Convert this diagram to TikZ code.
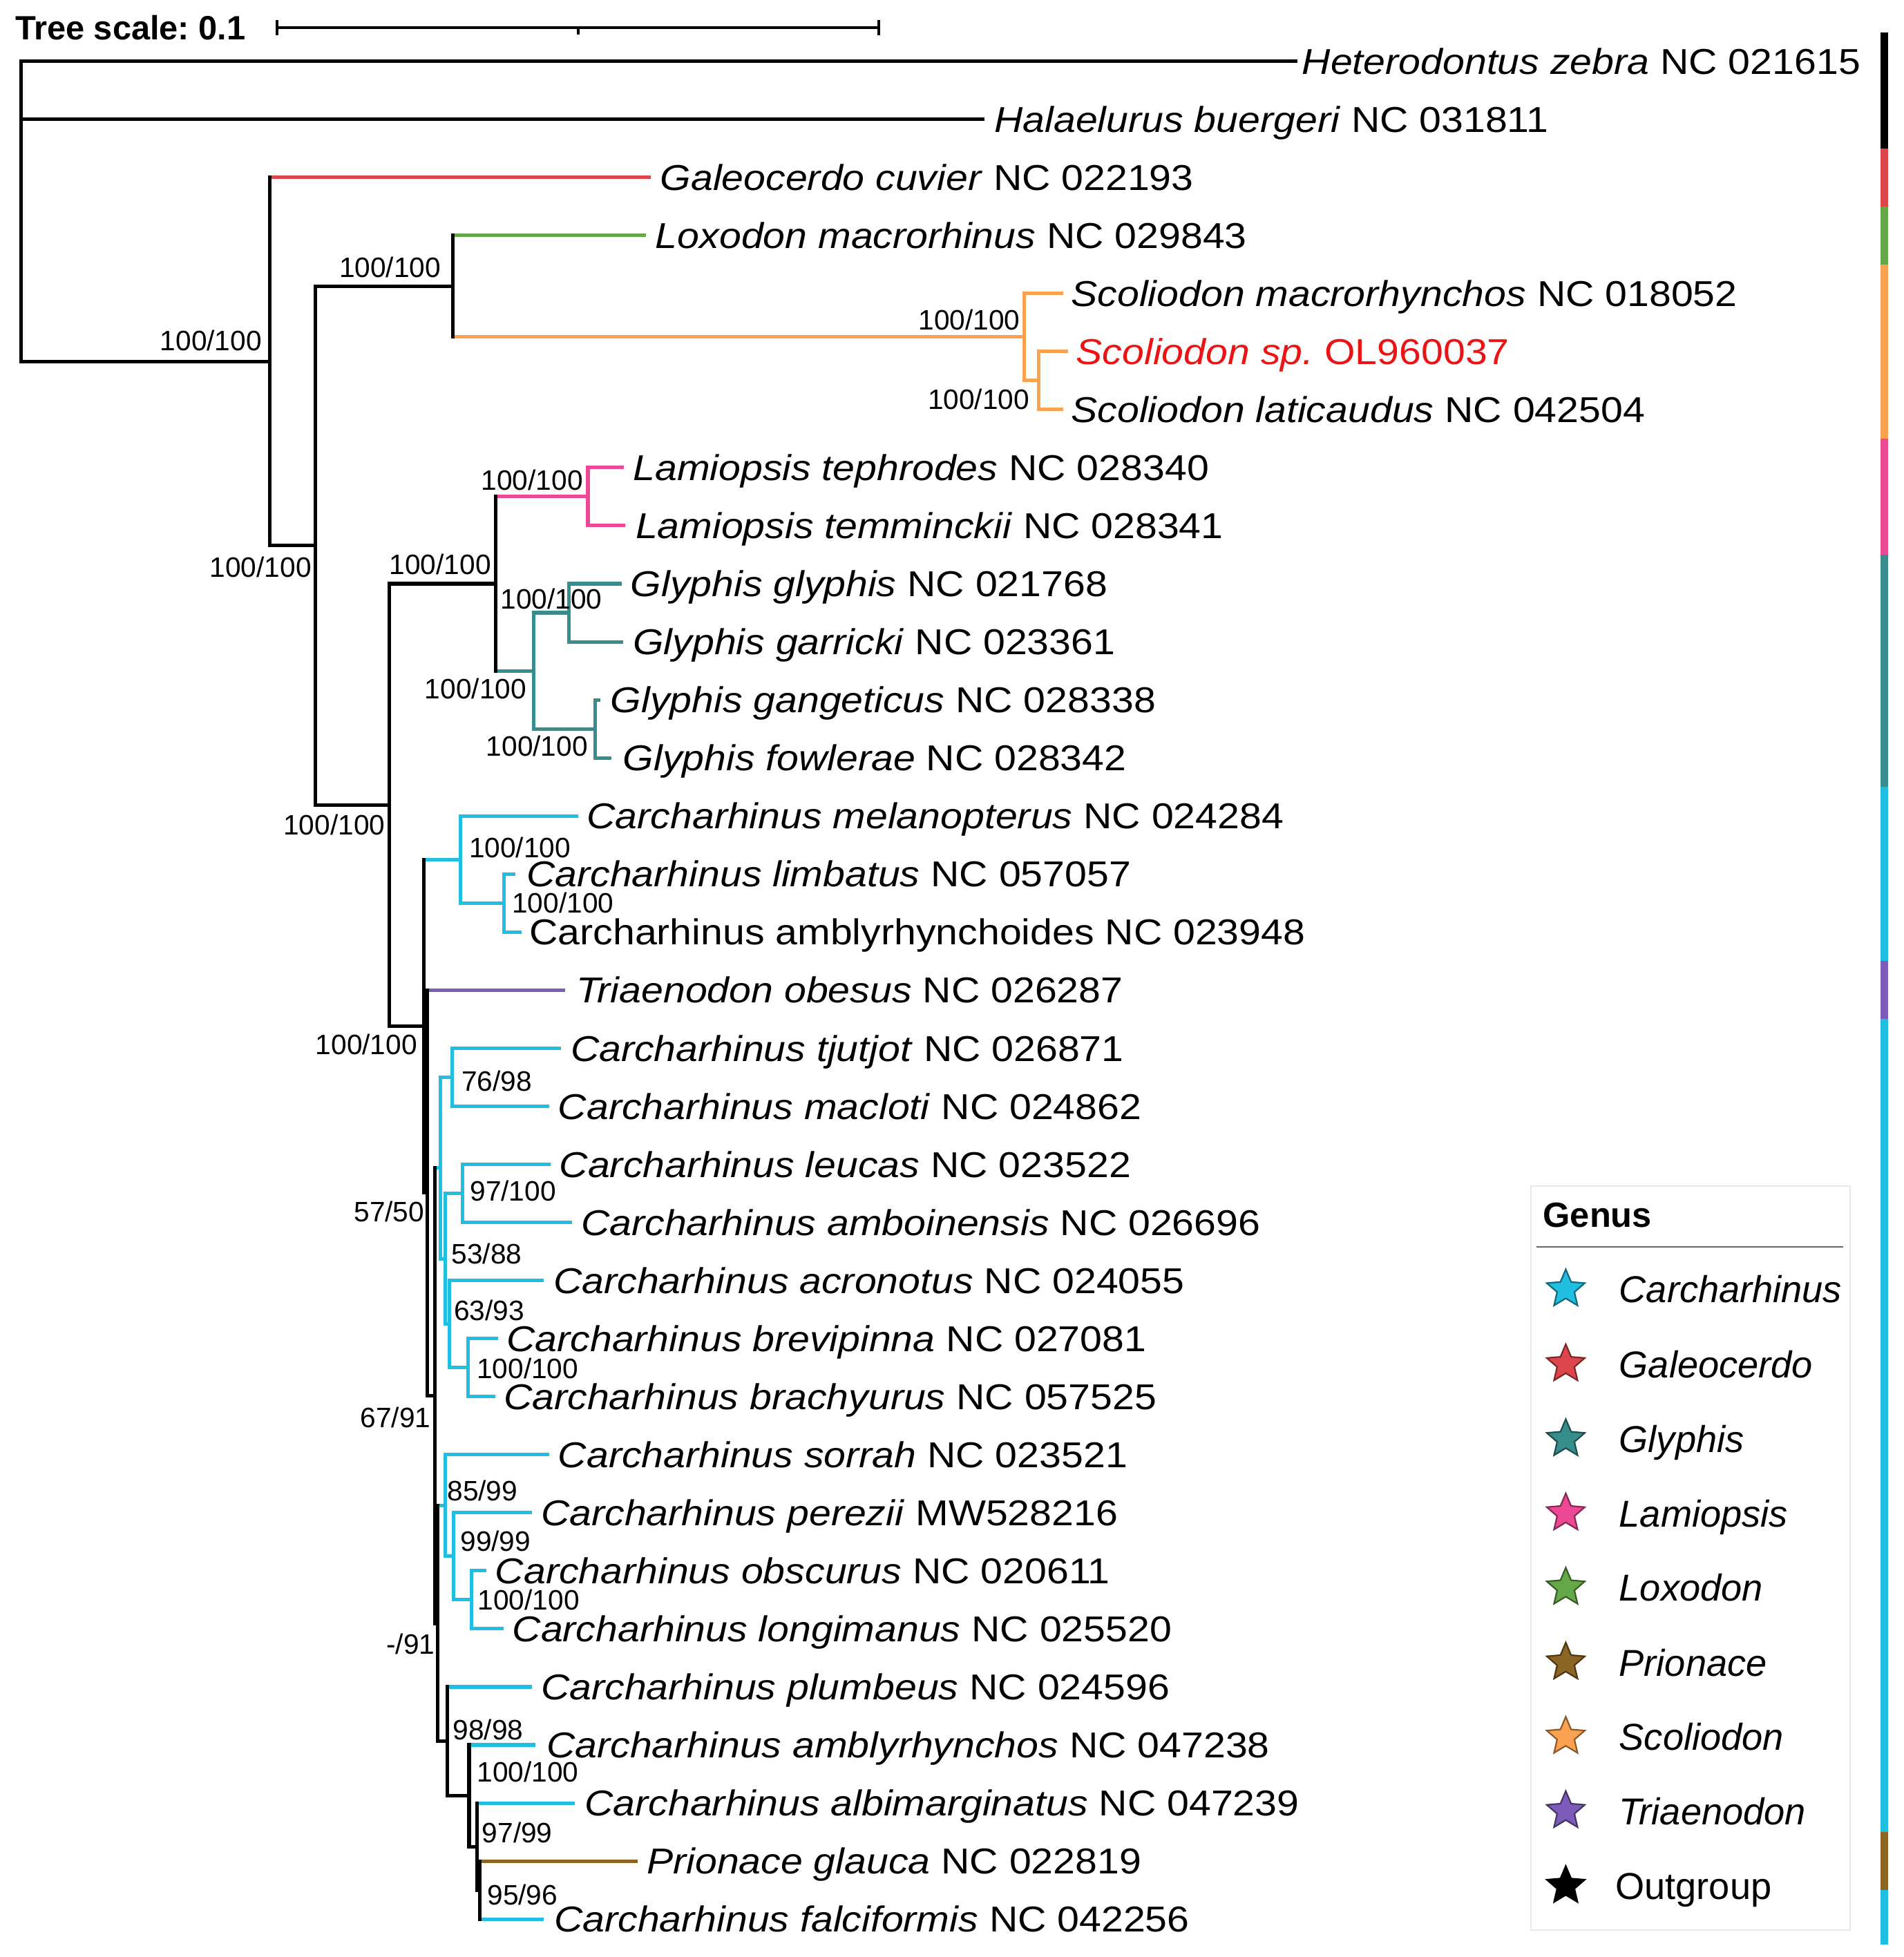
\documentclass[tikz,border=0pt]{standalone}
\usepackage{fontspec}
\setmainfont{Liberation Sans}
\newfontfamily\treefont{Liberation Sans}[FakeStretch=1.1]
\usetikzlibrary{shapes.geometric}
\definecolor{ccyan}{RGB}{32,190,224}
\definecolor{cred}{RGB}{220,70,75}
\definecolor{cteal}{RGB}{55,140,140}
\definecolor{cpink}{RGB}{236,72,150}
\definecolor{cgreen}{RGB}{100,168,72}
\definecolor{cbrown}{RGB}{140,100,35}
\definecolor{corange}{RGB}{250,162,80}
\definecolor{cpurple}{RGB}{125,92,185}
\definecolor{hired}{RGB}{235,20,20}
\newcommand{\rowY}[1]{(49+46.52*#1)}
\frenchspacing
\begin{document}
\begin{tikzpicture}[x=1pt,y=-1pt,
  br/.style={line width=2.8pt},
  vbr/.style={line width=2.8pt,line cap=rect},
  tip/.style={anchor=west,inner sep=0pt,text height=20.6pt,text depth=0pt,font=\treefont\fontsize{28.8}{30}\selectfont},
  bs/.style={anchor=center,inner sep=0pt,text height=16.1pt,text depth=0pt,font=\fontsize{22.5}{24}\selectfont},
  lg/.style={anchor=west,inner sep=0pt,text height=21.5pt,text depth=0pt,font=\fontsize{30}{32}\selectfont\itshape},
  gstar/.style={star,star points=5,star point ratio=2.2,minimum size=32pt,inner sep=0pt,line width=1.2pt},
  strip/.style={line width=6.4pt},
]
\useasboundingbox (0,0) rectangle (1525,1568);
\fill[white] (0,0) rectangle (1525,1568);

% ---------- scale bar
\node[anchor=west,inner sep=0pt,text height=19.3pt,text depth=0pt,font=\bfseries\fontsize{27}{28}\selectfont] (scaletxt) at (12,22) {Tree scale: 0.1};
\coordinate (sb0) at (222,22);
\coordinate (sbm) at (463,22);
\coordinate (sb1) at (704,22);
\draw[line width=2.2pt] (sb0) -- (sb1);
\draw[line width=2.2pt] ([yshift=-6pt]sb0) -- ([yshift=6pt]sb0);
\draw[line width=2.2pt] ([yshift=-6pt]sb1) -- ([yshift=6pt]sb1);
\draw[line width=2.2pt] (sbm) -- ([yshift=-5.5pt]sbm);

% ---------- internal nodes
\coordinate (root) at (17,169.3);
\coordinate (A) at (216,289.57);
\coordinate (B) at (252.4,437.1);
\coordinate (C) at (362.6,229.27);
\coordinate (D) at (820.6,269.97);
\coordinate (E) at (832,304.86);
\coordinate (F) at (312,644.94);
\coordinate (G) at (397,467.68);
\coordinate (H) at (471,397.9);
\coordinate (I) at (427.7,537.46);
\coordinate (J) at (455.7,490.94);
\coordinate (K) at (477,583.98);
\coordinate (L) at (339.5,822.2);
\coordinate (EE) at (368.8,688.65);
\coordinate (FF) at (404,723.54);
\coordinate (M) at (342.3,955.78);
\coordinate (N) at (348.6,1118.23);
\coordinate (S) at (353,935.79);
\coordinate (T) at (362.5,863.1);
\coordinate (R) at (356.5,1008.48);
\coordinate (U) at (370.8,956.14);
\coordinate (Q) at (360,1060.81);
\coordinate (V) at (374.8,1095.7);
\coordinate (O) at (350.8,1300.68);
\coordinate (Z) at (356.5,1206.18);
\coordinate (Y) at (363.5,1246.89);
\coordinate (X) at (377.6,1281.78);
\coordinate (AA) at (358.2,1395.17);
\coordinate (BB) at (375.8,1438.79);
\coordinate (CC) at (382.2,1479.49);
\coordinate (DD) at (384.6,1514.38);

% ---------- tip ends
\coordinate (t0) at (1039.6,{\rowY{0}});
\coordinate (t1) at (788.7,{\rowY{1}});
\coordinate (t2) at (521.4,{\rowY{2}});
\coordinate (t3) at (517.5,{\rowY{3}});
\coordinate (t4) at (852,{\rowY{4}});
\coordinate (t5) at (855.5,{\rowY{5}});
\coordinate (t6) at (852,{\rowY{6}});
\coordinate (t7) at (500,{\rowY{7}});
\coordinate (t8) at (501,{\rowY{8}});
\coordinate (t9) at (498,{\rowY{9}});
\coordinate (t10) at (499,{\rowY{10}});
\coordinate (t11) at (481,{\rowY{11}});
\coordinate (t12) at (490,{\rowY{12}});
\coordinate (t13) at (463.4,{\rowY{13}});
\coordinate (t14) at (413,{\rowY{14}});
\coordinate (t15) at (418,{\rowY{15}});
\coordinate (t16) at (452.8,{\rowY{16}});
\coordinate (t17) at (449.4,{\rowY{17}});
\coordinate (t18) at (440,{\rowY{18}});
\coordinate (t19) at (441,{\rowY{19}});
\coordinate (t20) at (458.5,{\rowY{20}});
\coordinate (t21) at (435.5,{\rowY{21}});
\coordinate (t22) at (398.8,{\rowY{22}});
\coordinate (t23) at (396.6,{\rowY{23}});
\coordinate (t24) at (440,{\rowY{24}});
\coordinate (t25) at (426.4,{\rowY{25}});
\coordinate (t26) at (389.6,{\rowY{26}});
\coordinate (t27) at (403.4,{\rowY{27}});
\coordinate (t28) at (426,{\rowY{28}});
\coordinate (t29) at (429,{\rowY{29}});
\coordinate (t30) at (460.4,{\rowY{30}});
\coordinate (t31) at (510.8,{\rowY{31}});
\coordinate (t32) at (435.5,{\rowY{32}});

% ---------- incoming branches of internal nodes
\draw[br] (root |- A) -- (A);
\draw[br] (A |- B) -- (B);
\draw[br] (B |- C) -- (C);
\draw[br,corange] (C |- D) -- (D);
\draw[br,corange] (D |- E) -- (E);
\draw[br] (B |- F) -- (F);
\draw[br] (F |- G) -- (G);
\draw[br,cpink] (G |- H) -- (H);
\draw[br,cteal] (G |- I) -- (I);
\draw[br,cteal] (I |- J) -- (J);
\draw[br,cteal] (I |- K) -- (K);
\draw[br] (F |- L) -- (L);
\draw[br,ccyan] (L |- EE) -- (EE);
\draw[br,ccyan] (EE |- FF) -- (FF);
\draw[br] (L |- M) -- (M);
\draw[br] (M |- N) -- (N);
\draw[br,ccyan] (N |- S) -- (S);
\draw[br,ccyan] (S |- T) -- (T);
\draw[br,ccyan] (S |- R) -- (R);
\draw[br,ccyan] (R |- U) -- (U);
\draw[br,ccyan] (R |- Q) -- (Q);
\draw[br,ccyan] (Q |- V) -- (V);
\draw[br] (N |- O) -- (O);
\draw[br,ccyan] (O |- Z) -- (Z);
\draw[br,ccyan] (Z |- Y) -- (Y);
\draw[br,ccyan] (Y |- X) -- (X);
\draw[br] (O |- AA) -- (AA);
\draw[br] (AA |- BB) -- (BB);
\draw[br] (BB |- CC) -- (CC);
\draw[br] (CC |- DD) -- (DD);

% ---------- tip branches
\draw[br] (root |- t0) -- (t0);
\draw[br] (root |- t1) -- (t1);
\draw[br,cred] (A |- t2) -- (t2);
\draw[br,cgreen] (C |- t3) -- (t3);
\draw[br,corange] (D |- t4) -- (t4);
\draw[br,corange] (E |- t5) -- (t5);
\draw[br,corange] (E |- t6) -- (t6);
\draw[br,cpink] (H |- t7) -- (t7);
\draw[br,cpink] (H |- t8) -- (t8);
\draw[br,cteal] (J |- t9) -- (t9);
\draw[br,cteal] (J |- t10) -- (t10);
\draw[br,cteal] (K |- t11) -- (t11);
\draw[br,cteal] (K |- t12) -- (t12);
\draw[br,ccyan] (EE |- t13) -- (t13);
\draw[br,ccyan] (FF |- t14) -- (t14);
\draw[br,ccyan] (FF |- t15) -- (t15);
\draw[br,cpurple] (M |- t16) -- (t16);
\draw[br,ccyan] (T |- t17) -- (t17);
\draw[br,ccyan] (T |- t18) -- (t18);
\draw[br,ccyan] (U |- t19) -- (t19);
\draw[br,ccyan] (U |- t20) -- (t20);
\draw[br,ccyan] (Q |- t21) -- (t21);
\draw[br,ccyan] (V |- t22) -- (t22);
\draw[br,ccyan] (V |- t23) -- (t23);
\draw[br,ccyan] (Z |- t24) -- (t24);
\draw[br,ccyan] (Y |- t25) -- (t25);
\draw[br,ccyan] (X |- t26) -- (t26);
\draw[br,ccyan] (X |- t27) -- (t27);
\draw[br,ccyan] (AA |- t28) -- (t28);
\draw[br,ccyan] (BB |- t29) -- (t29);
\draw[br,ccyan] (CC |- t30) -- (t30);
\draw[br,cbrown] (DD |- t31) -- (t31);
\draw[br,ccyan] (DD |- t32) -- (t32);

% ---------- verticals
\draw[vbr] (root |- t0) -- (root |- A);
\draw[vbr] (A |- t2) -- (A |- B);
\draw[vbr] (B |- C) -- (B |- F);
\draw[vbr] (C |- t3) -- (C |- D);
\draw[vbr,corange] (D |- t4) -- (D |- E);
\draw[vbr,corange] (E |- t5) -- (E |- t6);
\draw[vbr] (F |- G) -- (F |- L);
\draw[vbr] (G |- H) -- (G |- I);
\draw[vbr,cpink] (H |- t7) -- (H |- t8);
\draw[vbr,cteal] (I |- J) -- (I |- K);
\draw[vbr,cteal] (J |- t9) -- (J |- t10);
\draw[vbr,cteal] (K |- t11) -- (K |- t12);
\draw[vbr,ccyan] (EE |- t13) -- (EE |- FF);
\draw[vbr,ccyan] (FF |- t14) -- (FF |- t15);
\draw[vbr,ccyan] (S |- T) -- (S |- R);
\draw[vbr,ccyan] (T |- t17) -- (T |- t18);
\draw[vbr,ccyan] (R |- U) -- (R |- Q);
\draw[vbr,ccyan] (U |- t19) -- (U |- t20);
\draw[vbr,ccyan] (Q |- t21) -- (Q |- V);
\draw[vbr,ccyan] (V |- t22) -- (V |- t23);
\draw[vbr,ccyan] (Z |- t24) -- (Z |- Y);
\draw[vbr,ccyan] (Y |- t25) -- (Y |- X);
\draw[vbr,ccyan] (X |- t26) -- (X |- t27);
\draw[vbr] (L |- EE) -- (L |- M);
\draw[vbr] (M |- t16) -- (M |- N);
\draw[vbr] (N |- S) -- (N |- O);
\draw[vbr] (O |- Z) -- (O |- AA);
\draw[vbr] (AA |- t28) -- (AA |- BB);
\draw[vbr] (BB |- t29) -- (BB |- CC);
\draw[vbr] (CC |- t30) -- (CC |- DD);
\draw[vbr] (DD |- t31) -- (DD |- t32);

% ---------- tip labels
\node[tip] (n0) at (1043,{\rowY{0}}) {\textit{Heterodontus zebra} NC 021615};
\node[tip] (n1) at (796.5,{\rowY{1}}) {\textit{Halaelurus buergeri} NC 031811};
\node[tip] (n2) at (528.8,{\rowY{2}}) {\textit{Galeocerdo cuvier} NC 022193};
\node[tip] (n3) at (525,{\rowY{3}}) {\textit{Loxodon macrorhinus} NC 029843};
\node[tip] (n4) at (858,{\rowY{4}}) {\textit{Scoliodon macrorhynchos} NC 018052};
\node[tip,text=hired] (n5) at (862,{\rowY{5}}) {\textit{Scoliodon sp.} OL960037};
\node[tip] (n6) at (858,{\rowY{6}}) {\textit{Scoliodon laticaudus} NC 042504};
\node[tip] (n7) at (507,{\rowY{7}}) {\textit{Lamiopsis tephrodes} NC 028340};
\node[tip] (n8) at (509,{\rowY{8}}) {\textit{Lamiopsis temminckii} NC 028341};
\node[tip] (n9) at (505,{\rowY{9}}) {\textit{Glyphis glyphis} NC 021768};
\node[tip] (n10) at (507,{\rowY{10}}) {\textit{Glyphis garricki} NC 023361};
\node[tip] (n11) at (489,{\rowY{11}}) {\textit{Glyphis gangeticus} NC 028338};
\node[tip] (n12) at (499,{\rowY{12}}) {\textit{Glyphis fowlerae} NC 028342};
\node[tip] (n13) at (470,{\rowY{13}}) {\textit{Carcharhinus melanopterus} NC 024284};
\node[tip] (n14) at (421.7,{\rowY{14}}) {\textit{Carcharhinus limbatus} NC 057057};
\node[tip] (n15) at (424,{\rowY{15}}) {Carcharhinus amblyrhynchoides NC 023948};
\node[tip] (n16) at (461.5,{\rowY{16}}) {\textit{Triaenodon obesus} NC 026287};
\node[tip] (n17) at (457,{\rowY{17}}) {\textit{Carcharhinus tjutjot} NC 026871};
\node[tip] (n18) at (447,{\rowY{18}}) {\textit{Carcharhinus macloti} NC 024862};
\node[tip] (n19) at (448,{\rowY{19}}) {\textit{Carcharhinus leucas} NC 023522};
\node[tip] (n20) at (465.4,{\rowY{20}}) {\textit{Carcharhinus amboinensis} NC 026696};
\node[tip] (n21) at (443.3,{\rowY{21}}) {\textit{Carcharhinus acronotus} NC 024055};
\node[tip] (n22) at (405.7,{\rowY{22}}) {\textit{Carcharhinus brevipinna} NC 027081};
\node[tip] (n23) at (403.4,{\rowY{23}}) {\textit{Carcharhinus brachyurus} NC 057525};
\node[tip] (n24) at (447,{\rowY{24}}) {\textit{Carcharhinus sorrah} NC 023521};
\node[tip] (n25) at (433.3,{\rowY{25}}) {\textit{Carcharhinus perezii} MW528216};
\node[tip] (n26) at (396.6,{\rowY{26}}) {\textit{Carcharhinus obscurus} NC 020611};
\node[tip] (n27) at (410.3,{\rowY{27}}) {\textit{Carcharhinus longimanus} NC 025520};
\node[tip] (n28) at (433.3,{\rowY{28}}) {\textit{Carcharhinus plumbeus} NC 024596};
\node[tip] (n29) at (437.7,{\rowY{29}}) {\textit{Carcharhinus amblyrhynchos} NC 047238};
\node[tip] (n30) at (468.3,{\rowY{30}}) {\textit{Carcharhinus albimarginatus} NC 047239};
\node[tip] (n31) at (518,{\rowY{31}}) {\textit{Prionace glauca} NC 022819};
\node[tip] (n32) at (443.8,{\rowY{32}}) {\textit{Carcharhinus falciformis} NC 042256};

% ---------- support values
\node[bs] (bA) at (169,273) {100/100};
\node[bs] (bB) at (208.8,454.3) {100/100};
\node[bs] (bC) at (312.5,214.3) {100/100};
\node[bs] (bD) at (776.5,256) {100/100};
\node[bs] (bE) at (784,320) {100/100};
\node[bs] (bF) at (267.8,661) {100/100};
\node[bs] (bG) at (352.7,452) {100/100};
\node[bs] (bH) at (426.3,384.6) {100/100};
\node[bs] (bI) at (381,552) {100/100};
\node[bs] (bJ) at (441.7,479.6) {100/100};
\node[bs] (bK) at (430.2,598) {100/100};
\node[bs] (bL) at (293.5,836.6) {100/100};
\node[bs] (bEE) at (416.5,679) {100/100};
\node[bs] (bFF) at (451,723.3) {100/100};
\node[bs] (bM) at (311.8,970.7) {57/50};
\node[bs] (bN) at (316.8,1135.9) {67/91};
\node[bs] (bT) at (398,866) {76/98};
\node[bs] (bU) at (411,954) {97/100};
\node[bs] (bR) at (390,1004.4) {53/88};
\node[bs] (bQ) at (391.8,1049.8) {63/93};
\node[bs] (bV) at (422.7,1096.3) {100/100};
\node[bs] (bZ) at (386.5,1194.5) {85/99};
\node[bs] (bY) at (397,1234.6) {99/99};
\node[bs] (bX) at (423.5,1282) {100/100};
\node[bs] (bO) at (329,1317) {-/91};
\node[bs] (bAA) at (391,1386) {98/98};
\node[bs] (bBB) at (422.8,1419.6) {100/100};
\node[bs] (bCC) at (414.4,1468.5) {97/99};
\node[bs] (bDD) at (418.6,1518.3) {95/96};

% ---------- colour strip
\draw[strip,black] (1509.6,25.74) -- (1509.6,118.78);
\draw[strip,cred] (1509.6,118.78) -- (1509.6,165.3);
\draw[strip,cgreen] (1509.6,165.3) -- (1509.6,211.82);
\draw[strip,corange] (1509.6,211.82) -- (1509.6,351.38);
\draw[strip,cpink] (1509.6,351.38) -- (1509.6,444.42);
\draw[strip,cteal] (1509.6,444.42) -- (1509.6,630.5);
\draw[strip,ccyan] (1509.6,630.5) -- (1509.6,770.06);
\draw[strip,cpurple] (1509.6,770.06) -- (1509.6,816.58);
\draw[strip,ccyan] (1509.6,816.58) -- (1509.6,1467.86);
\draw[strip,cbrown] (1509.6,1467.86) -- (1509.6,1514.38);
\draw[strip,ccyan] (1509.6,1514.38) -- (1509.6,1558);

% ---------- legend
\node[draw=black!9,line width=1.2pt,minimum width=255.4pt,minimum height=596.5pt,inner sep=0pt,anchor=north west] (legbox) at (1226,949.5) {};
\node[anchor=west,inner sep=0pt,text height=20pt,text depth=0pt,font=\bfseries\fontsize{28}{30}\selectfont] (genus) at (1236,973) {Genus};
\coordinate (sepL) at (1231,999);
\coordinate (sepR) at (1476.5,999);
\draw[black!60,line width=1.5pt] (sepL) -- (sepR);
\node[gstar,fill=ccyan,draw=ccyan!55!black] (s1) at (1254.4,1033) {};
\node[lg] (l1) at (1297,1033) {Carcharhinus};
\node[gstar,fill=cred,draw=cred!55!black] (s2) at (1254.4,1093) {};
\node[lg] (l2) at (1297,1093) {Galeocerdo};
\node[gstar,fill=cteal,draw=cteal!55!black] (s3) at (1254.4,1153) {};
\node[lg] (l3) at (1297,1153) {Glyphis};
\node[gstar,fill=cpink,draw=cpink!55!black] (s4) at (1254.4,1212.5) {};
\node[lg] (l4) at (1297,1212.5) {Lamiopsis};
\node[gstar,fill=cgreen,draw=cgreen!55!black] (s5) at (1254.4,1272) {};
\node[lg] (l5) at (1297,1272) {Loxodon};
\node[gstar,fill=cbrown,draw=cbrown!55!black] (s6) at (1254.4,1332) {};
\node[lg] (l6) at (1297,1332) {Prionace};
\node[gstar,fill=corange,draw=corange!55!black] (s7) at (1254.4,1391.5) {};
\node[lg] (l7) at (1297,1391.5) {Scoliodon};
\node[gstar,fill=cpurple,draw=cpurple!55!black] (s8) at (1254.4,1451) {};
\node[lg] (l8) at (1297,1451) {Triaenodon};
\node[gstar,fill=black,draw=black] (s9) at (1254.4,1511) {};
\node[lg,font=\fontsize{30}{32}\selectfont] (l9) at (1294,1511) {Outgroup};
\end{tikzpicture}
\end{document}
